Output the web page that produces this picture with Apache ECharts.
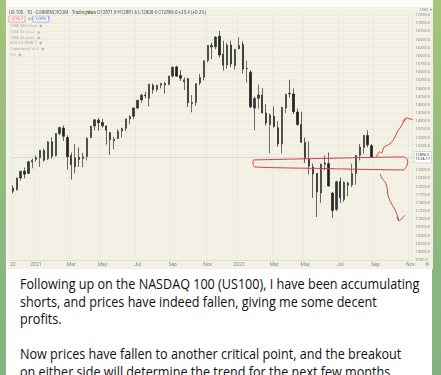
<!DOCTYPE html>
<html>
<head>
<meta charset="utf-8">
<script src="https://cdn.jsdelivr.net/npm/echarts@6/dist/echarts.min.js"></script>
<style>
  html, body { margin: 0; padding: 0; }
  body {
    width: 441px; height: 375px; overflow: hidden; position: relative;
    background: linear-gradient(180deg, #a4c57b 0%, #90b97e 55%, #83b381 100%);
  }
  #bubble { position: absolute; left: 6px; top: 0; width: 426px; height: 385px; background: #fff; }
  #chart { position: absolute; left: 7px; top: 0; width: 426px; height: 269px; }
  #msg {
    position: absolute; left: 20px; top: 275px; width: 470px;
    font-family: 'Open Sans', sans-serif; font-size: 14px; line-height: 17.6px;
    color: #111; white-space: nowrap;
    transform: scaleX(0.9); transform-origin: 0 0;
  }
  #msg p { margin: 0; }
</style>
</head>
<body>
<div id="bubble"></div>
<div id="chart"></div>
<div id="msg">
  <p>Following up on the NASDAQ 100 (US100), I have been accumulating</p>
  <p>shorts, and prices have indeed fallen, giving me some decent</p>
  <p>profits.</p>
  <p>&nbsp;</p>
  <p>Now prices have fallen to another critical point, and the breakout</p>
  <p>on either side will determine the trend for the next few months.</p>
</div>
<script>
const weeks = [
  '2020-11-16','2020-11-23','2020-11-30','2020-12-07','2020-12-14','2020-12-21','2020-12-28',
  '2021-01-04','2021-01-11','2021-01-18','2021-01-25','2021-02-01','2021-02-08','2021-02-15','2021-02-22',
  '2021-03-01','2021-03-08','2021-03-15','2021-03-22','2021-03-29','2021-04-05','2021-04-12','2021-04-19',
  '2021-04-26','2021-05-03','2021-05-10','2021-05-17','2021-05-24','2021-05-31','2021-06-07','2021-06-14',
  '2021-06-21','2021-06-28','2021-07-05','2021-07-12','2021-07-19','2021-07-26','2021-08-02','2021-08-09',
  '2021-08-16','2021-08-23','2021-08-30','2021-09-06','2021-09-13','2021-09-20','2021-09-27','2021-10-04',
  '2021-10-11','2021-10-18','2021-10-25','2021-11-01','2021-11-08','2021-11-15','2021-11-22','2021-11-29',
  '2021-12-06','2021-12-13','2021-12-20','2021-12-27',
  '2022-01-03','2022-01-10','2022-01-17','2022-01-24','2022-01-31','2022-02-07','2022-02-14','2022-02-21',
  '2022-02-28','2022-03-07','2022-03-14','2022-03-21','2022-03-28','2022-04-04','2022-04-11','2022-04-18',
  '2022-04-25','2022-05-02','2022-05-09','2022-05-16','2022-05-23','2022-05-30','2022-06-06','2022-06-13',
  '2022-06-20','2022-06-27','2022-07-04','2022-07-11','2022-07-18','2022-07-25','2022-08-01','2022-08-08',
  '2022-08-15','2022-08-22',
  // empty space to the right
  '2022-08-29','2022-09-05','2022-09-12','2022-09-19','2022-09-26','2022-10-03','2022-10-10','2022-10-17',
  '2022-10-24','2022-10-31'
];

const opens = [
  11950, 11900, 12260, 12470, 12400, 12750, 12830,
  12880, 13100, 12850, 13370, 12950, 13620, 13790, 13500,
  12950, 12600, 12900, 12850, 12920, 13500, 13850, 14030,
  13960, 13850, 13650, 13400, 13470, 13700, 13780, 14070,
  14150, 14400, 14650, 14800, 14700, 15100, 14970, 15100,
  15150, 15130, 15380, 15660, 15400, 15200, 15300, 14540,
  14580, 15170, 15340, 15860, 16320, 16280, 16600, 16050,
  15720, 16330, 15700, 16220,
  16350, 15600, 15500, 14400, 14700, 14800, 14250, 13900,
  14150, 13800, 13300, 14400, 14850, 14830, 14280, 13900,
  13350, 12850, 12600, 12400, 11800, 12680, 12700, 11800,
  11300, 12150, 11600, 12100, 12050, 12400, 12950, 13200,
  13560, 13250
];
const closes = [
  11855, 12258, 12465, 12377, 12756, 12805, 12888,
  13105, 12804, 13366, 12925, 13620, 13807, 13535, 12909,
  12669, 12888, 12825, 12915, 13480, 13845, 14042, 13951,
  13860, 13720, 13429, 13446, 13686, 13774, 14069, 14141,
  14402, 14640, 14794, 14776, 15131, 14960, 15095, 15155,
  15113, 15375, 15652, 15376, 15316, 15267, 14567, 14579,
  15146, 15336, 15850, 16318, 16275, 16574, 16025, 15712,
  16331, 15749, 16200, 16320,
  15595, 15612, 14439, 14694, 14804, 14253, 13943, 14188,
  13838, 13302, 14421, 14815, 14837, 14289, 13897, 13354,
  12855, 12631, 12387, 11835, 12681, 12719, 12015, 11265,
  12142, 11652, 12126, 12042, 12396, 12948, 13206, 13560,
  13275, 12896
];
const lows = [
  11790, 11880, 12180, 12250, 12380, 12560, 12760,
  12600, 12760, 12810, 12850, 12920, 13570, 13400, 12520,
  12210, 12400, 12600, 12590, 12800, 13480, 13720, 13700,
  13800, 13280, 12970, 13140, 13450, 13500, 13700, 13900,
  14060, 14370, 14560, 14700, 14450, 14840, 14900, 15000,
  14840, 15100, 15340, 15360, 15230, 14950, 14430, 14270,
  14480, 15100, 15250, 15800, 15900, 16200, 15950, 15550,
  15600, 15650, 15580, 16200,
  15460, 15180, 14400, 13720, 14380, 14240, 13860, 13020,
  13800, 13220, 13020, 14250, 14720, 14220, 13860, 13340,
  12720, 12370, 11650, 11070, 11500, 12500, 12000, 11037,
  11250, 11500, 11530, 11700, 11980, 12050, 12800, 13000,
  13200, 12880
];
const highs = [
  12040, 12270, 12480, 12580, 12790, 12850, 12950,
  13120, 13160, 13400, 13500, 13640, 13830, 13870, 13570,
  13040, 13300, 13200, 13030, 13500, 13860, 14060, 14100,
  14070, 13870, 13660, 13520, 13750, 13800, 14080, 14180,
  14420, 14650, 14840, 14900, 15140, 15150, 15120, 15170,
  15200, 15390, 15670, 15700, 15560, 15340, 15330, 14800,
  15160, 15450, 15860, 16330, 16400, 16600, 16764, 16460,
  16400, 16460, 16210, 16570,
  16440, 15850, 15560, 14750, 15120, 15010, 14520, 14230,
  14450, 14000, 14440, 14840, 15265, 15000, 14390, 14290,
  13500, 13380, 12700, 12410, 12700, 12950, 13040, 11830,
  12180, 12270, 12160, 12150, 12700, 12960, 13300, 13580,
  13720, 13300
];

// time-scale labels, put on the week holding the 1st of the month
const xLabels = {
  '2020-11-16': '22', '2020-12-28': '2021', '2021-03-01': 'Mar', '2021-04-26': 'May',
  '2021-06-28': 'Jul', '2021-08-30': 'Sep', '2021-11-01': 'Nov', '2021-12-27': '2022',
  '2022-02-28': 'Mar', '2022-04-25': 'May', '2022-06-27': 'Jul', '2022-08-29': 'Sep',
  '2022-10-31': 'Nov'
};

// hand-drawn red annotations, [week index, price]
const zoneBox = [
  [61.75, 12813], [80, 12860], [100.25, 12905], [101.0, 12860], [101.3, 12760],
  [101.0, 12620], [100.2, 12507], [80, 12550], [62.0, 12599], [61.6, 12700], [61.75, 12813]
];
const upPath = [
  [93.25, 12905], [94.0, 13060], [94.6, 13030], [95.25, 13211], [96.25, 13272],
  [97.25, 13364], [98.0, 13517], [98.75, 13700], [99.5, 13823], [100.25, 13976], [101.0, 14098]
];
const upHead = [[99.9, 13990], [101.0, 14098], [102.6, 14040]];
const downPath = [
  [94.25, 12385], [94.75, 12232], [95.5, 12140], [96.0, 11956], [96.25, 11711],
  [97.0, 11497], [97.75, 11344], [98.5, 11161], [99.0, 10946]
];
const downHead = [[98.5, 11070], [99.0, 10946], [100.6, 11130]];

const GRID = '#e8e6da';
const RED = '#d2403c';
const labelAt = (i, v) => v in xLabels;

const chart = echarts.init(document.getElementById('chart'));

const bars = opens.map((o, i) => [o, closes[i], lows[i], highs[i]]);
const lastClose = closes[closes.length - 1];

const redLine = (data, z) => ({
  type: 'line',
  xAxisIndex: 1,
  data,
  symbol: 'none',
  smooth: 0.2,
  silent: true,
  z,
  lineStyle: { color: RED, width: 1 },
});

chart.setOption({
  animation: false,
  backgroundColor: '#f3f1e6',
  textStyle: { fontFamily: 'Roboto' },
  grid: { left: 0, right: 14, top: 15, bottom: 9 },
  xAxis: [
    {
      type: 'category',
      data: weeks,
      axisLine: { lineStyle: { color: '#d8d5c8', width: 0.6 } },
      axisTick: { show: false },
      axisLabel: {
        interval: labelAt,
        formatter: v => xLabels[v] || '',
        fontSize: 5,
        color: '#8a8a80',
        margin: 2,
      },
      splitLine: { show: true, interval: labelAt, lineStyle: { color: GRID, width: 0.6 } },
    },
    { type: 'value', min: -0.5, max: weeks.length - 0.5, show: false },
  ],
  yAxis: {
    type: 'value',
    position: 'right',
    min: 9750,
    max: 17250,
    interval: 250,
    axisLine: { show: false },
    axisTick: { show: false },
    axisLabel: {
      fontSize: 4,
      color: '#8a8a80',
      margin: 3,
      formatter: v => v.toFixed(1),
    },
    splitLine: { lineStyle: { color: GRID, width: 0.6 } },
  },
  graphic: [
    { type: 'rect', shape: { x: 0, y: 0, width: 426, height: 7 }, style: { fill: '#fbfbf7' } },
    {
      type: 'text', left: 2, top: 10,
      style: { text: 'US 100 · 1D · CURRENCYCOM · TradingView', fontSize: 4.5, fill: '#555', fontFamily: 'Roboto' },
    },
    { type: 'circle', shape: { cx: 82, cy: 12.5, r: 1.5 }, style: { fill: '#4caf50' } },
    {
      type: 'text', left: 90, top: 10,
      style: { text: 'O12871.8 H12881.6 L12808.6 C12896.0 +35.4 (+0.3%)', fontSize: 4.5, fill: '#555', fontFamily: 'Roboto' },
    },
    { type: 'rect', shape: { x: 2, y: 16, width: 16, height: 6 }, style: { fill: '#fff', stroke: '#e57373', lineWidth: 0.6 } },
    { type: 'text', left: 4, top: 17, style: { text: '1290.7', fontSize: 4, fill: '#e53935' } },
    { type: 'text', left: 21, top: 17, style: { text: '4.8', fontSize: 4, fill: '#777' } },
    { type: 'rect', shape: { x: 26, y: 16, width: 16, height: 6 }, style: { fill: '#fff', stroke: '#6d8fe0', lineWidth: 0.6 } },
    { type: 'text', left: 28, top: 17, style: { text: '12895.7', fontSize: 4, fill: '#3b5fcf' } },
    { type: 'text', left: 3, top: 24, style: { text: 'SMA 200 close  ◉', fontSize: 4, fill: '#aaa' } },
    { type: 'text', left: 3, top: 30, style: { text: 'SMA 50 close  ◉', fontSize: 4, fill: '#aaa' } },
    { type: 'text', left: 3, top: 36, style: { text: 'SMA 20 close  ◉', fontSize: 4, fill: '#aaa' } },
    { type: 'text', left: 3, top: 41, style: { text: 'ATR 14 RMA 2  ◉', fontSize: 4, fill: '#aaa' } },
    { type: 'text', left: 3, top: 47, style: { text: 'Supertrend 10 3  ◉', fontSize: 4, fill: '#aaa' } },
    { type: 'text', left: 3, top: 53, style: { text: 'Vol  ◉', fontSize: 4, fill: '#aaa' } },
    { type: 'text', left: 413, top: 8, style: { text: 'USD ▾', fontSize: 4, fill: '#888' } },
    { type: 'text', left: 418, top: 262, style: { text: '⚙', fontSize: 5, fill: '#888', fontFamily: 'DejaVu Sans' } },
  ],
  series: [
    {
      type: 'candlestick',
      data: bars,
      barWidth: 1.8,
      itemStyle: {
        color: '#333', color0: '#222',
        borderColor: '#333', borderColor0: '#222', borderWidth: 0.7,
      },
      markLine: {
        symbol: 'none',
        silent: true,
        data: [{ yAxis: lastClose }],
        lineStyle: { color: '#9a9a9a', type: 'dotted', width: 0.5 },
        label: {
          position: 'end',
          formatter: lastClose.toFixed(1) + '\n13:06:17',
          fontSize: 3.8,
          lineHeight: 4.5,
          color: '#333',
          backgroundColor: '#fff',
          borderColor: '#aaa',
          borderWidth: 0.4,
          padding: [1, 1],
          distance: 2,
        },
      },
    },
    redLine(zoneBox, 5),
    redLine(upPath, 5),
    redLine(upHead, 5),
    redLine(downPath, 5),
    redLine(downHead, 5),
  ],
});
</script>
</body>
</html>
